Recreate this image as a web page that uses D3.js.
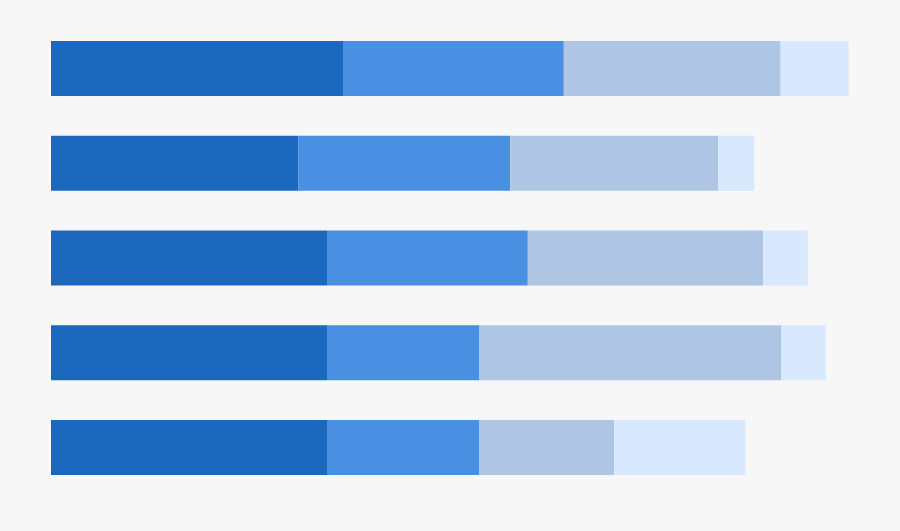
<!DOCTYPE html>
<html>
<head>
<meta charset="utf-8">
<script src="https://cdn.jsdelivr.net/npm/d3@7"></script>
<style>
  html, body { margin: 0; padding: 0; background: #f7f7f7; }
  svg { display: block; }
</style>
</head>
<body>
<svg id="chart" width="900" height="531"></svg>
<script>
const categories = ["A", "B", "C", "D", "E"];
const seriesNames = ["s1", "s2", "s3", "s4"];
const s1 = [36.5, 30.9, 34.5, 34.5, 34.5];
const s2 = [27.6, 26.5, 25.1, 19.0, 19.0];
const s3 = [27.1, 26.0, 29.4, 37.75, 16.9];
const s4 = [8.5, 4.5, 5.6, 5.6, 16.4];
const colors = ["#1c68bf", "#4a90e2", "#aec6e3", "#d8e8fd"];

const rows = categories.map((c, i) => ({ cat: c, s1: s1[i], s2: s2[i], s3: s3[i], s4: s4[i] }));
const stack = d3.stack().keys(seriesNames)(rows);

const svg = d3.select("#chart");
const x = d3.scaleLinear().domain([0, 100]).range([51, 851]);
const y = d3.scaleBand().domain(categories).range([22.05, 493.95])
  .paddingInner(0.4195).paddingOuter(0.2);

svg.append("g").selectAll("g").data(stack).join("g")
  .attr("fill", (d, i) => colors[i])
  .selectAll("rect").data(d => d).join("rect")
  .attr("x", d => x(d[0]))
  .attr("width", d => x(d[1]) - x(d[0]))
  .attr("y", d => y(d.data.cat))
  .attr("height", y.bandwidth());
</script>
</body>
</html>
